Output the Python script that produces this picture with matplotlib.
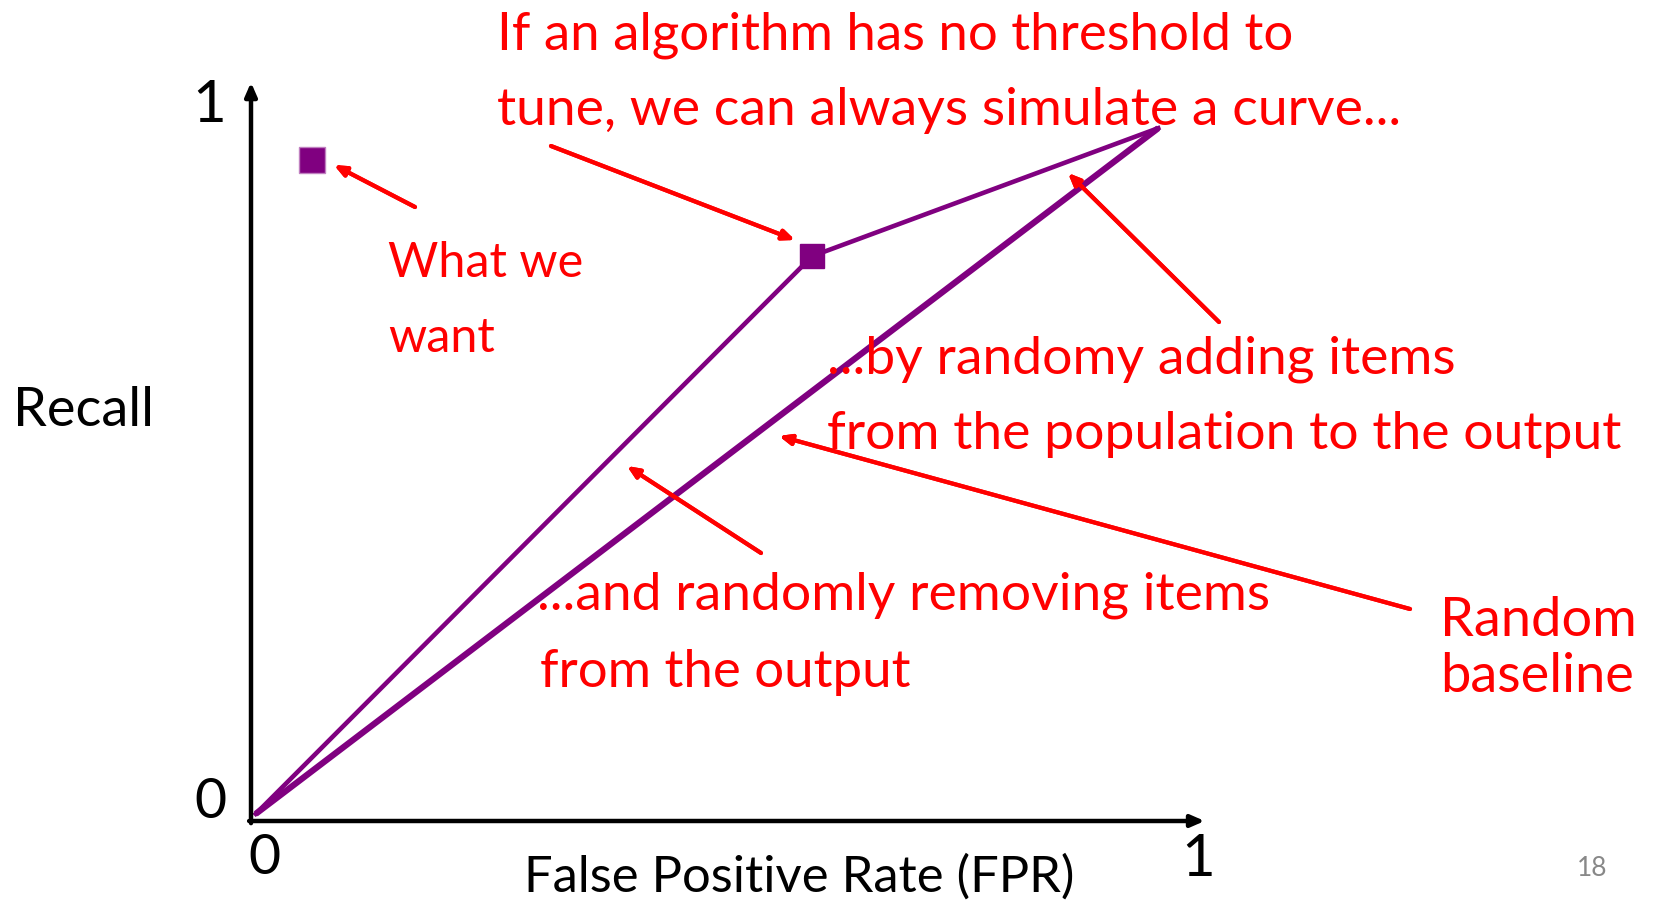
import numpy as np
import matplotlib.pyplot as plt

# ROC-style sketch: simulated curve vs random baseline

W, H = 1667, 901
purple = "#800080"
red = "#ff0000"

# data (FPR, recall)
curve_fpr = [0.005, 0.592, 0.957]
curve_rec = [0.010, 0.790, 0.969]
base_fpr = [0.005, 0.957]
base_rec = [0.010, 0.969]
ideal_fpr = [0.064]
ideal_rec = [0.924]

# annotations: text, left x, center y (pixels from top-left), size
notes = [
    ("If an algorithm has no threshold to", 497, 35, 38),
    ("tune, we can always simulate a curve...", 497, 111, 38.5),
    ("What we", 388, 263, 35),
    ("want", 388, 338, 35),
    ("...by randomy adding items", 827, 359, 38.5),
    ("from the population to the output", 827, 434, 38.5),
    ("...and randomly removing items", 537, 595, 38.5),
    ("from the output", 540, 672, 38),
    ("Random", 1440, 620, 39),
    ("baseline", 1440, 677, 39),
]
# arrows: tail -> head (pixels)
arrows = [
    ((415, 207), (334, 165)),
    ((551, 146), (795, 240)),
    ((1219, 322), (1068, 173)),
    ((761, 553), (627, 466)),
    ((1410, 609), (779, 436)),
]


def fx(x, y):
    return (x / W, 1 - y / H)


fig = plt.figure(figsize=(W / 100, H / 100), dpi=100)
plt.rcParams['font.family'] = ['Lato', 'DejaVu Sans']

# axes: x=0 at px 251, x=1 at px 1199 ; y=0 at px 821, y=1 at px 106
ax = fig.add_axes([251 / W, 1 - 821 / H, 948 / W, 715 / H])
ax.set_xlim(0, 1)
ax.set_ylim(0, 1)
ax.axis('off')

ax.plot(base_fpr, base_rec, color=purple, lw=4.5, solid_capstyle='butt', clip_on=False)
ax.plot(curve_fpr, curve_rec, color=purple, lw=3.3, clip_on=False)
ax.plot(curve_fpr[1:2], curve_rec[1:2], 's', color=purple, ms=17, clip_on=False)
ax.plot(ideal_fpr, ideal_rec, 's', color=purple, ms=18.5, mec='#c080c0', mew=1, clip_on=False)

# axis arrows
ax.annotate('', xy=(1.006, 0), xytext=(-0.002, 0), xycoords='data',
            arrowprops=dict(arrowstyle='-|>,head_length=0.8,head_width=0.35', color='black', lw=3.2,
                            shrinkA=0, shrinkB=0), annotation_clip=False)
ax.annotate('', xy=(0, 1.033), xytext=(0, -0.003), xycoords='data',
            arrowprops=dict(arrowstyle='-|>,head_length=0.8,head_width=0.35', color='black', lw=3.2,
                            shrinkA=0, shrinkB=0), annotation_clip=False)

for txt, x, y, s in notes:
    fig.text(*fx(x, y), txt, color=red, fontsize=s, ha='left', va='center')

for tail, head in arrows:
    fig.add_artist(plt.annotate('', xy=fx(*head), xytext=fx(*tail), xycoords='figure fraction',
                                textcoords='figure fraction',
                                arrowprops=dict(arrowstyle='-|>,head_length=0.7,head_width=0.3',
                                                color=red, lw=3, shrinkA=0, shrinkB=0)))

# axis labels and ticks
fig.text(*fx(13, 411), "Recall", fontsize=39, ha='left', va='center')
fig.text(*fx(524, 877), "False Positive Rate (FPR)", fontsize=36.5, ha='left', va='center')
fig.text(*fx(209, 106), "1", fontsize=42, ha='center', va='center')
fig.text(*fx(210, 803), "0", fontsize=40, ha='center', va='center')
fig.text(*fx(264, 859), "0", fontsize=40, ha='center', va='center')
fig.text(*fx(1198, 859), "1", fontsize=42, ha='center', va='center')
fig.text(*fx(1592, 869), "18", fontsize=19, color='#888888', ha='center', va='center')

fig.savefig("out.png", dpi=100)
